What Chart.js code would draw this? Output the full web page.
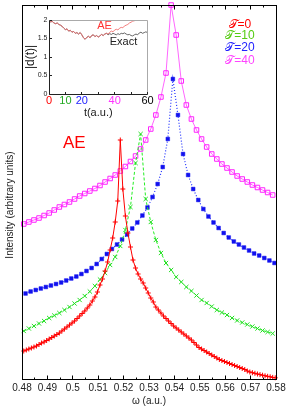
<!DOCTYPE html>
<html>
<head>
<meta charset="utf-8">
<script src="https://cdn.jsdelivr.net/npm/chart.js@4.4.1/dist/chart.umd.min.js"></script>
<style>
html,body{margin:0;padding:0;background:#fff;}
#wrap{position:relative;width:291px;height:411px;}
#main,#inset{position:absolute;left:0;top:0;}
</style>
</head>
<body>
<div id="wrap">
<canvas id="main" width="291" height="411"></canvas>
<canvas id="inset" width="160" height="123"></canvas>
</div>
<script>
// main plot: frequency grids (a.u.)
const omegaFine=[0.4807,0.4817,0.4827,0.4837,0.4847,0.4857,0.4867,0.4877,0.4887,0.4897,
0.4907,0.4917,0.4927,0.4937,0.4947,0.4957,0.4967,0.4977,0.4987,0.4997,
0.5007,0.5017,0.5027,0.5037,0.5047,0.5057,0.5067,0.5077,0.5087,0.5097,
0.5107,0.5117,0.5127,0.5137,0.5147,0.5157,0.5167,0.5177,0.5187,0.5197,
0.5207,0.5217,0.5227,0.5237,0.5247,0.5257,0.5267,0.5277,0.5287,0.5297,
0.5307,0.5317,0.5327,0.5337,0.5347,0.5357,0.5367,0.5377,0.5387,0.5397,
0.5407,0.5417,0.5427,0.5437,0.5447,0.5457,0.5467,0.5477,0.5487,0.5497,
0.5507,0.5517,0.5527,0.5537,0.5547,0.5557,0.5567,0.5577,0.5587,0.5597,
0.5607,0.5617,0.5627,0.5637,0.5647,0.5657,0.5667,0.5677,0.5687,0.5697,
0.5707,0.5717,0.5727,0.5737,0.5747,0.5757,0.5767,0.5777,0.5787,0.5797];
const omegaCoarse=[0.4807,0.4827,0.4847,0.4867,0.4887,0.4907,0.4927,0.4947,0.4967,0.4987,
0.5007,0.5027,0.5047,0.5067,0.5087,0.5107,0.5127,0.5147,0.5167,0.5187,
0.5207,0.5227,0.5247,0.5267,0.5287,0.5307,0.5327,0.5347,0.5367,0.5387,
0.5407,0.5427,0.5447,0.5467,0.5487,0.5507,0.5527,0.5547,0.5567,0.5587,
0.5607,0.5627,0.5647,0.5667,0.5687,0.5707,0.5727,0.5747,0.5767,0.5787];
const omegaBlue=[0.4814,0.4834,0.4854,0.4874,0.4894,0.4914,0.4934,0.4954,0.4974,0.4994,
0.5014,0.5034,0.5054,0.5074,0.5094,0.5114,0.5134,0.5154,0.5174,0.5194,
0.5214,0.5234,0.5254,0.5274,0.5294,0.5314,0.5334,0.5354,0.5374,0.5394,
0.5414,0.5434,0.5454,0.5474,0.5494,0.5514,0.5534,0.5554,0.5574,0.5594,
0.5614,0.5634,0.5654,0.5674,0.5694,0.5714,0.5734,0.5754,0.5774,0.5794];

// intensities (arbitrary units)
const tau0=[28,29,30,31,32,33,34.5,36,37,38.5,40,41.5,43,44.5,46,48,50,52,54,56,
58,60.5,63,65.5,68,71,74,78,82,87,94,100,108,117,129,141,157,178,239,190,
163,146,132,119,111,105,100,96,91,86,81,77,72,69,66,63,60.5,58,55.5,53,
51,49,47,45,43,41,39,36.5,34,31.5,30,28.5,27,25.5,24,22.5,21,19.5,18.5,17.5,
16.5,15.5,14.5,13.5,12.5,11.5,10.5,9.5,8,7,6.3,5.7,5,4.4,3.8,3.2,2.7,2.2,1.6,1.2];
const tau10=[48,50.5,53,55.5,58,61,63.5,66,69,72,75.5,79,83,87.5,93,99.5,106,114,122,133,
149,172,216,245,180,157,139,126,116,109,102,97,92,88,83.5,79,76,72.5,69,66.5,
64,61,58.5,56.5,54.5,52.5,50.5,48.5,47,45.5];
const tau20=[85.5,87.5,89,90.5,92,93.5,95,96.5,98.5,100.5,102.5,105,108,111,115,120,125,130,134.5,139.5,
144.5,150.5,156.5,163.5,171.5,182,195,212,240,300,264,225,204,190,179,170,162.5,156.5,151,146,
141.5,137.5,134.5,131.5,128.5,125.5,123.5,121,118.5,116];
const tau40=[155,157,159,161,163.5,166,169,172,174.5,177,180,183,185.5,188,190.5,193.5,197,200.5,204,208,
212.5,217.5,223,230,239,250,264,282,306,374,344,298,274,260,249,240,232,225,220,215,
211,207,203,200,197,194,191.5,189,186.5,184];

const xTicks=[0.48,0.49,0.5,0.51,0.52,0.53,0.54,0.55,0.56,0.57,0.58];
const legendLabels=['𝒯=0','𝒯=10','𝒯=20','𝒯=40'];
const legendColors=['#ff0000','#55cc11','#2222ff','#ff44ff'];

// inset: |d(t)| versus t
const insetT=[0,1,2,3,4,5,6,7,8,9,10,11,12,13,14,15,16,17,18,19,20,21,22,23,24,25,26,27,28,29,
30,31,32,33,34,35,36,37,38,39,40,41,42,43,44,45,46,47,48,49,50,51,52,53,54,55,56,57,58,59,60];
const dAE=[1.97,1.95,1.96,1.92,1.9,1.92,1.88,1.86,1.83,1.78,1.74,1.76,1.7,1.72,1.67,1.69,1.64,1.66,1.62,1.66,
1.6,1.52,1.48,1.53,1.56,1.52,1.58,1.6,1.55,1.58,1.54,1.57,1.61,1.58,1.62,1.64,1.62,1.67,1.7,1.68,
1.73,1.75,1.73,1.78,1.8,1.79,1.84,1.86,1.88,1.92,1.94,1.97,1.98,1.99,2.0,1.99,2.0,2.0,1.99,2.0,2.0];
const dExact=[1.97,1.95,1.96,1.92,1.9,1.92,1.88,1.86,1.83,1.78,1.74,1.76,1.7,1.72,1.67,1.69,1.64,1.66,1.62,1.66,
1.6,1.52,1.48,1.53,1.56,1.52,1.58,1.6,1.55,1.58,1.54,1.57,1.61,1.58,1.62,1.64,1.6,1.63,1.61,1.64,
1.62,1.6,1.63,1.61,1.64,1.63,1.65,1.62,1.6,1.61,1.58,1.57,1.6,1.62,1.6,1.65,1.67,1.64,1.66,1.68,1.66];
const insetXTicks=[0,10,20,40,60];
const insetXTickColors=['#ff0000','#22aa22','#2222ff','#ff33ff','#000000'];
const insetYTicks=[0,0.5,1,1.5,2];

Chart.defaults.font.family='"Liberation Sans", Arial, sans-serif';

function pts(xs,ys){return xs.map((v,i)=>({x:v,y:ys[i]}));}

const mainDeco={
  id:'mainDeco',
  afterDraw(chart){
    const {ctx,chartArea:a,scales:{x,y}}=chart;
    const L=Math.floor(a.left)+0.5,R=Math.floor(a.right)+0.5,T=Math.floor(a.top)+0.5,B=Math.floor(a.bottom)+0.5;
    ctx.save();
    ctx.strokeStyle='#000';
    ctx.lineWidth=1;
    ctx.strokeRect(L,T,R-L,B-T);
    ctx.beginPath();
    xTicks.forEach((v,i)=>{
      const p=Math.floor(x.getPixelForValue(v))+0.5;
      ctx.moveTo(p,B);ctx.lineTo(p,B-4);
      ctx.moveTo(p,T);ctx.lineTo(p,T+4);
      if(i<xTicks.length-1){
        const q=Math.floor(x.getPixelForValue(v+0.005))+0.5;
        ctx.moveTo(q,B);ctx.lineTo(q,B-2);
        ctx.moveTo(q,T);ctx.lineTo(q,T+2);
      }
    });
    ctx.stroke();

    ctx.textAlign='center';
    ctx.textBaseline='middle';
    ctx.fillStyle='#ff0000';
    ctx.font='17px "Liberation Sans", Arial, sans-serif';
    ctx.fillText('AE',x.getPixelForValue(0.5006),y.getPixelForValue(236));

    ctx.font='12px "Liberation Sans", Arial, sans-serif';
    const legendH=[354.5,343,331,318];
    legendLabels.forEach((t,i)=>{
      ctx.fillStyle=legendColors[i];
      ctx.fillText(t,x.getPixelForValue(0.5658),y.getPixelForValue(legendH[i]));
    });

    ctx.fillStyle='#222';
    ctx.font='10px "Liberation Sans", Arial, sans-serif';
    ctx.translate(10,205);
    ctx.rotate(-Math.PI/2);
    ctx.fillText('Intensity (arbitrary units)',0,0);
    ctx.restore();
  }
};

new Chart(document.getElementById('main'),{
  type:'line',
  data:{
    datasets:[
      {label:'T=0',data:pts(omegaFine,tau0),borderColor:'#ff0000',borderWidth:1,
       pointStyle:'cross',pointRadius:2.5,pointBorderColor:'#ff0000',pointBorderWidth:1,clip:false},
      {label:'T=10',data:pts(omegaCoarse,tau10),borderColor:'#22ee22',borderWidth:1,borderDash:[3,2],
       pointStyle:'crossRot',pointRadius:3,pointBorderColor:'#22dd22',pointBorderWidth:1,clip:false},
      {label:'T=20',data:pts(omegaBlue,tau20),borderColor:'#2233ff',borderWidth:1.2,borderDash:[1,2],
       pointStyle:'rect',pointRadius:2.6,pointBackgroundColor:'#1111ee',pointBorderColor:'#1111ee',pointBorderWidth:0.5,clip:false},
      {label:'T=40',data:pts(omegaCoarse,tau40),borderColor:'#ff66ff',borderWidth:1,
       pointStyle:'rect',pointRadius:3.2,pointBackgroundColor:'rgba(255,255,255,0)',pointBorderColor:'#ff22ff',pointBorderWidth:1,clip:false}
    ]
  },
  options:{
    responsive:false,
    animation:false,
    layout:{padding:{left:0,top:5,right:15,bottom:0}},
    plugins:{legend:{display:false},tooltip:{enabled:false}},
    elements:{line:{tension:0}},
    scales:{
      x:{
        type:'linear',min:0.48,max:0.58,
        afterBuildTicks:s=>{s.ticks=xTicks.map(v=>({value:v}));},
        afterFit:s=>{s.height=32;},
        grid:{display:false,drawTicks:false},
        border:{display:false},
        ticks:{autoSkip:false,maxRotation:0,padding:3,color:'#222',font:{size:10},
               callback:v=>String(Math.round(v*100)/100)},
        title:{display:true,text:'ω (a.u.)',color:'#222',font:{size:10},padding:{top:0,bottom:4}}
      },
      y:{
        min:0,max:374,
        afterFit:s=>{s.width=22;},
        grid:{display:false,drawTicks:false},
        border:{display:false},
        ticks:{display:false}
      }
    }
  },
  plugins:[mainDeco]
});

const insetDeco={
  id:'insetDeco',
  afterDraw(chart){
    const {ctx,chartArea:a,scales:{x,y}}=chart;
    const L=Math.floor(a.left)+0.5,R=Math.floor(a.right)+0.5,T=Math.floor(a.top)+0.5,B=Math.floor(a.bottom)+0.5;
    ctx.save();
    ctx.lineWidth=1;
    ctx.strokeStyle='#aaa';
    ctx.beginPath();
    ctx.moveTo(L,T);ctx.lineTo(R,T);ctx.lineTo(R,B);
    ctx.stroke();
    ctx.strokeStyle='#222';
    ctx.beginPath();
    ctx.moveTo(L,T);ctx.lineTo(L,B);ctx.lineTo(R,B);
    [0,10,20,30,40,50,60].forEach(v=>{
      const p=Math.floor(x.getPixelForValue(v))+0.5;
      ctx.moveTo(p,B);ctx.lineTo(p,B-2.5);
    });
    insetYTicks.forEach(v=>{
      const p=Math.floor(y.getPixelForValue(v))+0.5;
      ctx.moveTo(L,p);ctx.lineTo(L+2.5,p);
    });
    ctx.stroke();

    ctx.textAlign='center';
    ctx.textBaseline='middle';
    ctx.font='11px "Liberation Sans", Arial, sans-serif';
    ctx.fillStyle='#ff3333';
    ctx.fillText('AE',x.getPixelForValue(33.8),y.getPixelForValue(1.83));
    ctx.fillStyle='#222';
    ctx.fillText('Exact',x.getPixelForValue(45.4),y.getPixelForValue(1.41));
    ctx.restore();
  }
};

new Chart(document.getElementById('inset'),{
  type:'line',
  data:{
    datasets:[
      {label:'AE',data:pts(insetT,dAE),borderColor:'#f07070',borderWidth:0.9,pointRadius:0},
      {label:'Exact',data:pts(insetT,dExact),borderColor:'#555',borderWidth:0.9,pointRadius:0}
    ]
  },
  options:{
    responsive:false,
    animation:false,
    layout:{padding:{left:0,top:20,right:12.5,bottom:0}},
    plugins:{legend:{display:false},tooltip:{enabled:false}},
    elements:{line:{tension:0}},
    scales:{
      x:{
        type:'linear',min:0,max:60,
        afterBuildTicks:s=>{s.ticks=insetXTicks.map(v=>({value:v}));},
        afterFit:s=>{s.height=29;},
        grid:{display:false,drawTicks:false},
        border:{display:false},
        ticks:{autoSkip:false,maxRotation:0,padding:0,font:{size:11},color:c=>insetXTickColors[c.index]},
        title:{display:true,text:'t(a.u.)',color:'#222',font:{size:11},padding:{top:0,bottom:3.5}}
      },
      y:{
        min:0,max:2,
        afterBuildTicks:s=>{s.ticks=insetYTicks.map(v=>({value:v}));},
        afterFit:s=>{s.width=49;},
        grid:{display:false,drawTicks:false},
        border:{display:false},
        ticks:{padding:1.5,font:{size:7},color:'#222',callback:v=>String(v)},
        title:{display:true,text:'|d(t)|',color:'#222',font:{size:12},padding:{top:23,bottom:0}}
      }
    }
  },
  plugins:[insetDeco]
});
</script>
</body>
</html>
